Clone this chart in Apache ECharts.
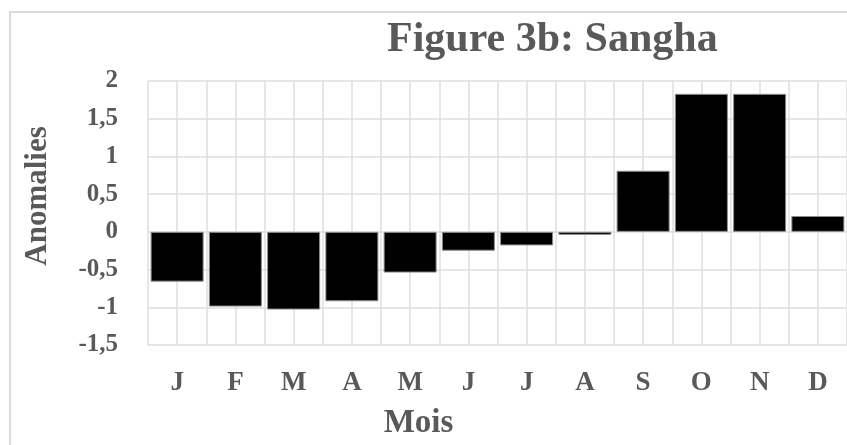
<!DOCTYPE html>
<html>
<head>
<meta charset="utf-8">
<style>
  html, body { margin: 0; padding: 0; background: #fff; }
  #chart { width: 847px; height: 445px; }
</style>
<script src="https://cdn.jsdelivr.net/npm/echarts@6/dist/echarts.min.js"></script>
</head>
<body>
<div id="chart"></div>
<script>
// 月份与距平值
const months = ['J', 'F', 'M', 'A', 'M', 'J', 'J', 'A', 'S', 'O', 'N', 'D']
const anomalies = [-0.66, -0.99, -1.03, -0.92, -0.54, -0.25, -0.18, -0.04, 0.81, 1.83, 1.83, 0.21]
const yTicks = [-1.5, -1, -0.5, 0, 0.5, 1, 1.5, 2]

const font = "'Liberation Serif', 'Times New Roman', serif"
const textGrey = '#595959'
const gridGrey = '#dedede'

const fmt = (v) => String(v).replace('.', ',')

const chart = echarts.init(document.getElementById('chart'))

chart.setOption({
  backgroundColor: '#fff',
  animation: false,
  title: {
    text: 'Figure 3b: Sangha',
    left: 382, top: 14,
    textStyle: { fontFamily: font, fontWeight: 'bold', fontSize: 42, color: textGrey }
  },
  graphic: [
    // 图表外框
    { type: 'rect', silent: true, z: -1,
      shape: { x: 10, y: 12, width: 860, height: 460 },
      style: { fill: 'none', stroke: '#d9d9d9', lineWidth: 2 } }
  ],
  grid: { left: 148, right: -2, top: 81, bottom: 95 },
  xAxis: [
    {
      type: 'category', data: months, position: 'bottom',
      axisLine: { show: false, onZero: false }, axisTick: { show: false },
      axisLabel: { margin: 25, fontFamily: font, fontWeight: 'bold', fontSize: 27, color: textGrey },
      name: 'Mois', nameLocation: 'middle', nameGap: 62,
      nameTextStyle: { fontFamily: font, fontWeight: 'bold', fontSize: 33, color: textGrey, padding: [0, 158, 0, 0] }
    },
    // 半格竖向网格线
    {
      type: 'value', min: 0, max: months.length, interval: 0.5, show: true,
      axisLine: { show: false }, axisTick: { show: false }, axisLabel: { show: false },
      splitLine: { show: true, lineStyle: { color: gridGrey, width: 1.5 } }
    }
  ],
  yAxis: {
    type: 'value', min: yTicks[0], max: yTicks[yTicks.length - 1], interval: 0.5,
    axisLine: { show: false }, axisTick: { show: false },
    axisLabel: { margin: 30, fontFamily: font, fontWeight: 'bold', fontSize: 25, color: textGrey, formatter: fmt },
    splitLine: { lineStyle: { color: gridGrey, width: 1.5 } },
    name: 'Anomalies', nameLocation: 'middle', nameGap: 95,
    nameTextStyle: { fontFamily: font, fontWeight: 'bold', fontSize: 31, color: textGrey, padding: [0, 0, 0, 34] }
  },
  series: [
    {
      type: 'bar', xAxisIndex: 0, data: anomalies, barCategoryGap: '9%',
      itemStyle: { color: '#000', borderColor: '#8c8c8c', borderWidth: 1 }
    }
  ]
})
</script>
</body>
</html>
